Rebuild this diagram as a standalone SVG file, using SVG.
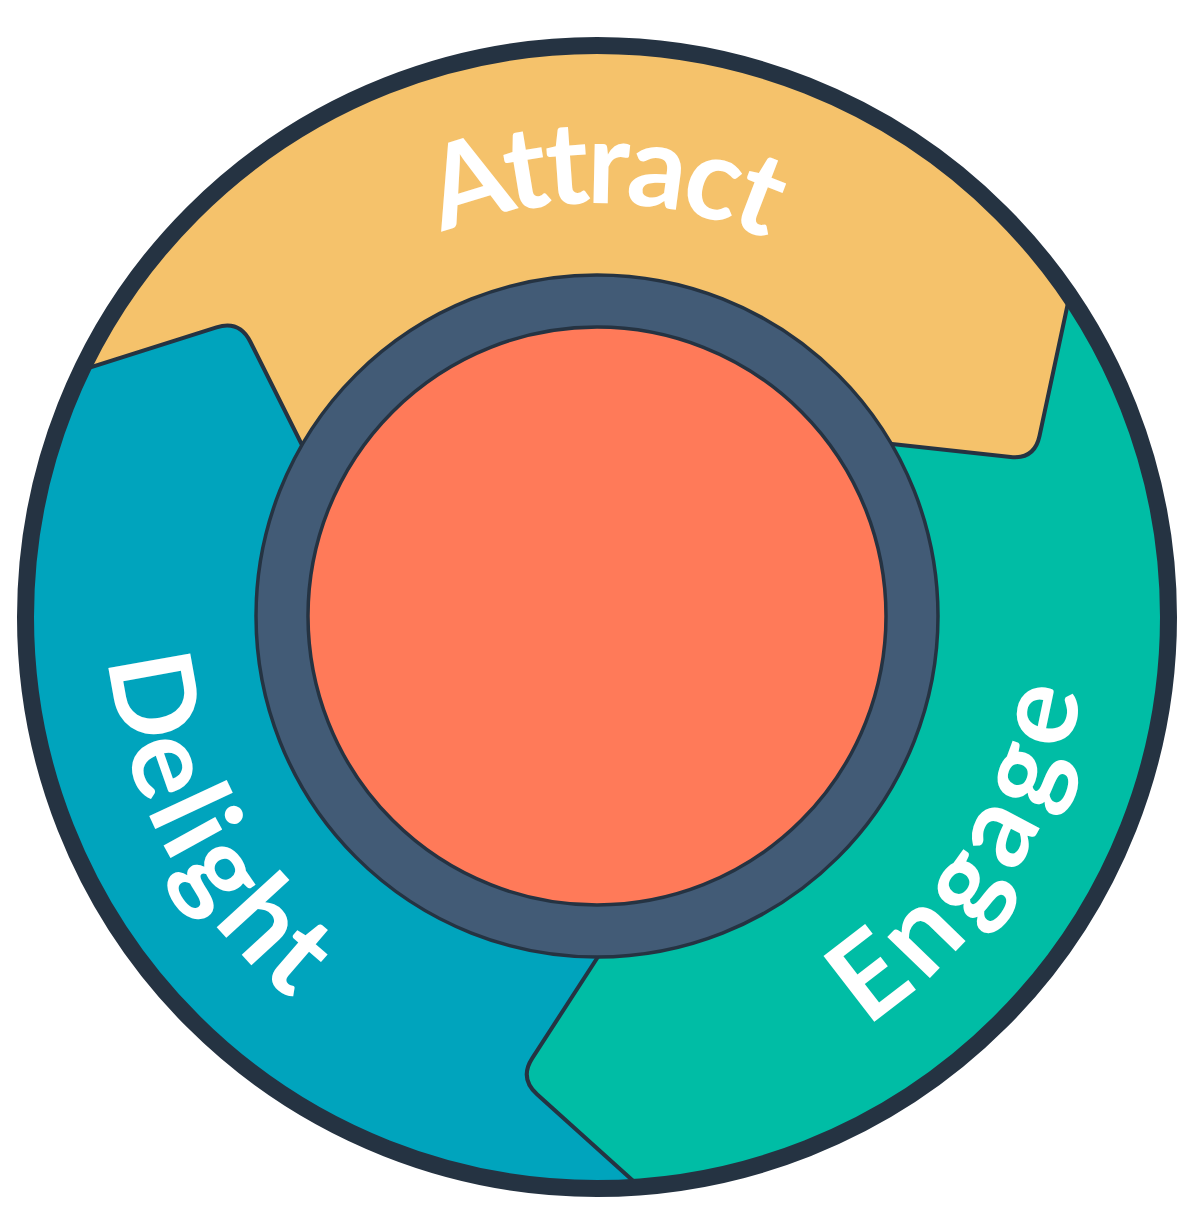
<svg xmlns="http://www.w3.org/2000/svg" width="1194" height="1222" viewBox="0 0 1194 1222">
  <style>
    .label { font-family: "Lato", "Open Sans", "Liberation Sans", sans-serif; font-weight: 700; font-size: 115px; fill: #ffffff; }
    .edge { fill: none; stroke: #253342; stroke-width: 4; stroke-linejoin: round; stroke-linecap: round; }
  </style>
  <defs>
    <clipPath id="disk">
      <circle cx="597" cy="617" r="571"/>
    </clipPath>
    <path id="arcAttract" d="M 183 617 A 414 414 0 0 1 1011 617"/>
    <path id="arcDelight" d="M 597 127 A 490 490 0 0 0 597 1107"/>
    <path id="arcEngage" d="M 597 1107 A 490 490 0 0 0 597 127"/>
  </defs>
  <rect width="1194" height="1222" fill="#ffffff"/>
  <g clip-path="url(#disk)">
    <g id="attract">
      <circle cx="597" cy="617" r="575" fill="#f5c26b"/>
    </g>
    <g id="engage">
      <path fill="#00bda5" d="M 597 616 L 860 440.5 L 1010.6 456.9 Q 1034.5 459.5 1039.5 436 L 1090 200 L 1250 250 L 1250 1300 L 721 1260 L 537 1094.3 Q 519.2 1078.2 532.3 1058.1 L 605 946 Z"/>
    </g>
    <g id="delight">
      <path fill="#00a4bd" d="M 597 616 L 605 946 L 532.3 1058.1 Q 519.2 1078.2 537 1094.3 L 721 1260 L -60 1300 L -60 380 L 0 396 L 216.5 327.3 Q 239.4 320 250.2 341.5 L 320 481 Z"/>
    </g>
    <g id="connectors">
      <path class="edge" d="M 0 396 L 216.5 327.3 Q 239.4 320 250.2 341.5 L 320 481"/>
      <path class="edge" d="M 1090 200 L 1039.5 436 Q 1034.5 459.5 1010.6 456.9 L 860 440.5"/>
      <path class="edge" d="M 605 946 L 532.3 1058.1 Q 519.2 1078.2 537 1094.3 L 721 1260"/>
    </g>
  </g>
  <circle id="outer-rim" cx="597" cy="617" r="571.5" fill="none" stroke="#253342" stroke-width="17"/>
  <g id="center">
    <circle cx="597" cy="616" r="341" fill="#425b76" stroke="#253342" stroke-width="3.5"/>
    <circle cx="597" cy="616" r="289" fill="#ff7a59" stroke="#253342" stroke-width="3.5"/>
  </g>
  <g id="labels">
    <text class="label" text-anchor="middle" style="letter-spacing:-4.5px"><textPath href="#arcAttract" startOffset="656">Attract</textPath></text>
    <text class="label" text-anchor="middle" style="letter-spacing:4px"><textPath href="#arcDelight" startOffset="1012">Delight</textPath></text>
    <text class="label" text-anchor="middle" style="letter-spacing:8px"><textPath href="#arcEngage" startOffset="494">Engage</textPath></text>
  </g>
</svg>
